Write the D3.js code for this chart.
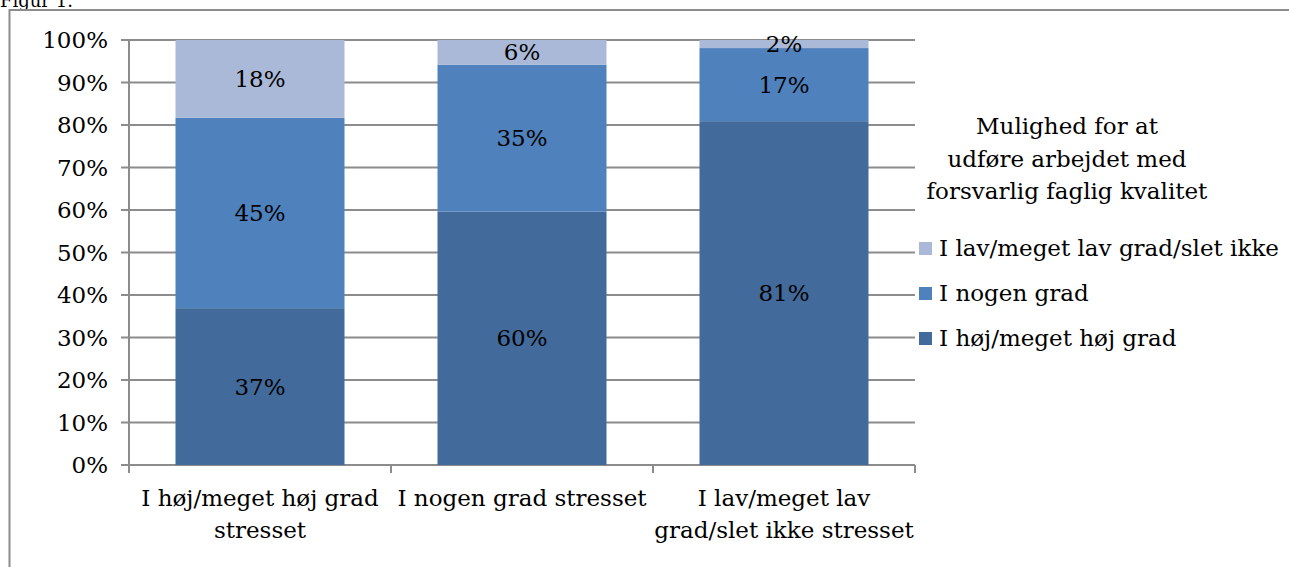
<!DOCTYPE html>
<html><head><meta charset="utf-8">
<script src="https://cdn.jsdelivr.net/npm/d3@7"></script>
<style>body{margin:0;background:#fff}svg{display:block}text{font-family:"DejaVu Serif",serif;fill:#000}</style>
</head><body><svg id="c" width="1289" height="567"></svg>
<script>
const categories = [["I høj/meget høj grad","stresset"],["I nogen grad stresset"],["I lav/meget lav","grad/slet ikke stresset"]];
const seriesNames = ["I høj/meget høj grad","I nogen grad","I lav/meget lav grad/slet ikke"];
const highVals = [0.369, 0.596, 0.809];
const someVals = [0.448, 0.346, 0.172];
const lowVals  = [0.183, 0.058, 0.019];
const colors = ["#426A9B","#4F81BD","#AAB9D7"];
const yTicks = [0,0.1,0.2,0.3,0.4,0.5,0.6,0.7,0.8,0.9,1.0];
const legendTitle = ["Mulighed for at","udføre arbejdet med","forsvarlig faglig kvalitet"];

const FS = 23;
const svg = d3.select("#c");
svg.append("text").attr("x",0).attr("y",7).attr("font-size",18).text("Figur 1.");
svg.append("path").attr("d","M1289,10 H9.5 V567").attr("fill","none").attr("stroke","#8c8c8c").attr("stroke-width",2);

const L=129,R=915,T=40,B=465;
const x = d3.scaleBand().domain(d3.range(3)).range([L,R]).paddingInner(0.355).paddingOuter(0.1775);
const y = d3.scaleLinear().domain([0,1]).range([B,T]);

const g = svg.append("g");
g.selectAll("line.grid").data(yTicks).join("line").attr("x1",L-8).attr("x2",R).attr("y1",d=>y(d)).attr("y2",d=>y(d)).attr("stroke","#8c8c8c").attr("stroke-width",2);
g.selectAll("text.yt").data(yTicks).join("text").attr("x",L-21).attr("y",d=>y(d)+8).attr("text-anchor","end").attr("font-size",FS).text(d3.format(".0%"));
g.append("line").attr("x1",L).attr("x2",L).attr("y1",T).attr("y2",B+8).attr("stroke","#8c8c8c").attr("stroke-width",2);
const bandStep = (R-L)/3;
[0,1,2,3].forEach(i=>g.append("line").attr("x1",L+i*bandStep).attr("x2",L+i*bandStep).attr("y1",B).attr("y2",B+8).attr("stroke","#8c8c8c").attr("stroke-width",2));

const rows = d3.range(3).map(i=>({i, high:highVals[i], some:someVals[i], low:lowVals[i]}));
const stack = d3.stack().keys(["high","some","low"])(rows);
stack.forEach((s,k)=>{
  g.selectAll(null).data(s).join("rect").attr("x",(d,i)=>x(i)).attr("width",x.bandwidth()).attr("y",d=>y(d[1])).attr("height",d=>y(d[0])-y(d[1])).attr("fill",colors[k]);
});
stack.forEach((s,k)=>{
  g.selectAll(null).data(s).join("text").attr("x",(d,i)=>x(i)+x.bandwidth()/2).attr("y",d=>(y(d[0])+y(d[1]))/2+8).attr("text-anchor","middle").attr("font-size",FS).text(d=>d3.format(".0%")(d[1]-d[0]));
});
categories.forEach((lines,i)=>{
  const t=g.append("text").attr("text-anchor","middle").attr("font-size",FS);
  lines.forEach((ln,j)=>t.append("tspan").attr("x",x(i)+x.bandwidth()/2).attr("y",506+j*32).text(ln));
});
const lt = svg.append("text").attr("text-anchor","middle").attr("font-size",FS);
legendTitle.forEach((ln,j)=>lt.append("tspan").attr("x",1067).attr("y",134+j*32.5).text(ln));
[2,1,0].forEach((k,j)=>{
  const yy=248+j*45;
  svg.append("rect").attr("x",919).attr("y",yy-6).attr("width",13).attr("height",13).attr("fill",colors[k]);
  svg.append("text").attr("x",939).attr("y",yy+8).attr("font-size",FS).text(seriesNames[k]);
});
</script></body></html>
